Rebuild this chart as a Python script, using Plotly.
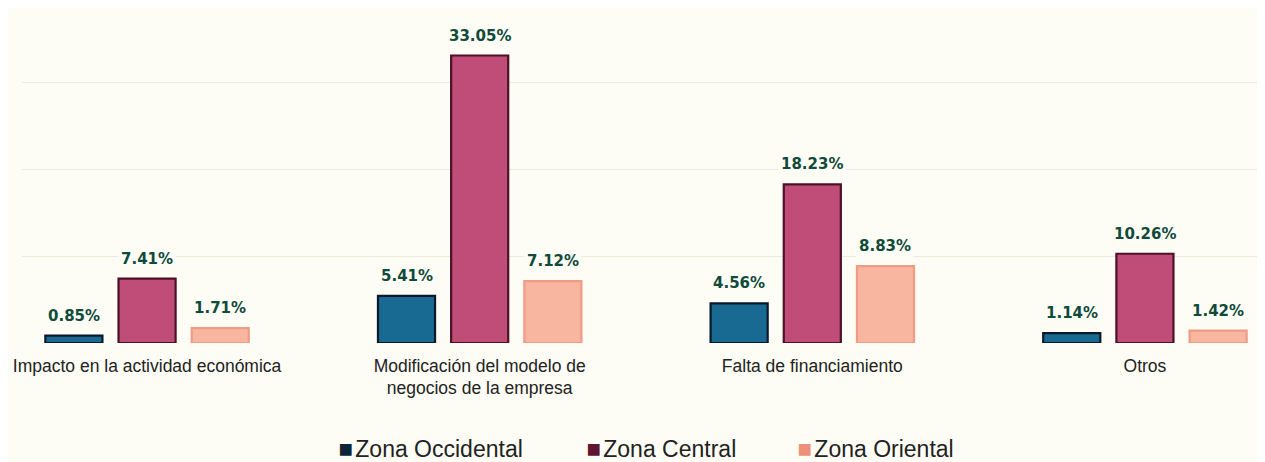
import plotly.graph_objects as go

categories = ["Impacto en la actividad económica",
              "Modificación del modelo de<br>negocios de la empresa",
              "Falta de financiamiento",
              "Otros"]
series_names = ["Zona Occidental", "Zona Central", "Zona Oriental"]
occidental = [0.85, 5.41, 4.56, 1.14]
central = [7.41, 33.05, 18.23, 10.26]
oriental = [1.71, 7.12, 8.83, 1.42]
values = [occidental, central, oriental]

fills = ["#196a92", "#c04d77", "#f8b6a0"]
edges = ["#08192a", "#4d1127", "#ee9c86"]
legend_colors = ["#0c2436", "#5e1530", "#ee9079"]

BG = "#fdfdf5"
bargap = 0.34
bargroupgap = 0.22

fig = go.Figure()
legends = ["legend", "legend2", "legend3"]
for k, (name, vals) in enumerate(zip(series_names, values)):
    fig.add_trace(go.Bar(
        x=categories, y=vals, name=name, showlegend=False,
        marker=dict(color=fills[k], line=dict(color=edges[k], width=2.2)),
    ))
for k, name in enumerate(series_names):
    fig.add_trace(go.Scatter(
        x=[None], y=[None], mode="markers", legend=legends[k],
        name=f'<span style="color:{legend_colors[k]}; font-size:24px">■</span>'
             f'<span style="font-size:8px"> </span>{name}',
        marker=dict(symbol="square", size=1, color="rgba(0,0,0,0)"),
    ))

# value labels above bars
slot = (1 - bargap) / 3
for k, vals in enumerate(values):
    for i, v in enumerate(vals):
        fig.add_annotation(
            x=i + (k - 1) * slot, y=v, xref="x", yref="y",
            text=f"{v:.2f}%", showarrow=False, yanchor="bottom",
            yshift=8, bgcolor=BG, borderpad=2,
            font=dict(family="DejaVu Sans", size=15, color="#0f4a3b", weight="bold"),
        )

leg_common = dict(orientation="h", yanchor="middle", y=-0.316, xanchor="left",
                  bgcolor="rgba(0,0,0,0)",
                  font=dict(family="Liberation Sans", size=23, color="#222222"))
fig.update_layout(
    width=1257, height=470,
    margin=dict(l=14, r=0, t=2, b=135),
    paper_bgcolor=BG, plot_bgcolor=BG,
    barmode="group", bargap=bargap, bargroupgap=bargroupgap,
    showlegend=True,
    legend=dict(x=0.2225, **leg_common),
    legend2=dict(x=0.4220, **leg_common),
    legend3=dict(x=0.5918, **leg_common),
    xaxis=dict(range=[-0.376, 3.361], showgrid=False, showline=False,
               ticks="", ticklabelstandoff=10,
               tickfont=dict(family="Liberation Sans", size=17.5, color="#222222")),
    yaxis=dict(range=[0, 38.28], dtick=10, showticklabels=False,
               showgrid=True, gridcolor="#ece9dd", gridwidth=1,
               zeroline=False, showline=False),
)

fig.write_html("out.html")
